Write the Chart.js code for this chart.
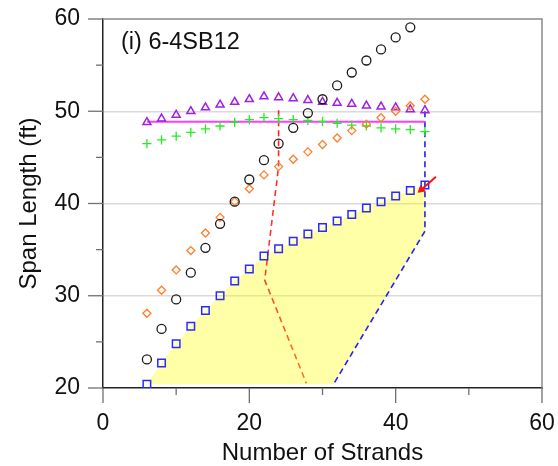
<!DOCTYPE html>
<html>
<head>
<meta charset="utf-8">
<script src="https://cdn.jsdelivr.net/npm/chart.js@4/dist/chart.umd.min.js"></script>
<style>
  body { margin: 0; background: #fff; }
  canvas { display: block; }
</style>
</head>
<body>
<canvas id="span_chart" width="558" height="466"></canvas>
<script>
// number of strands (x) shared by all marker series
const strands = [6, 8, 10, 12, 14, 16, 18, 20, 22, 24, 26, 28, 30, 32, 34, 36, 38, 40, 42, 44];

// span length (ft) per series
const circleSpan = [23.1, 26.4, 29.6, 32.5, 35.2, 37.8, 40.2, 42.6, 44.7, 46.5, 48.2, 49.8, 51.3, 52.8, 54.2, 55.5, 56.7, 58.0, 59.1];
const diamondSpan = [28.1, 30.6, 32.8, 34.9, 36.8, 38.5, 40.2, 41.6, 43.1, 44.0, 44.8, 45.6, 46.4, 47.1, 47.9, 48.6, 49.3, 50.0, 50.6, 51.3];
const triangleSpan = [48.8, 49.2, 49.6, 50.0, 50.4, 50.7, 51.0, 51.3, 51.6, 51.5, 51.4, 51.2, 51.0, 50.9, 50.8, 50.6, 50.5, 50.4, 50.2, 50.1];
const plusSpan = [46.5, 46.9, 47.3, 47.7, 48.1, 48.4, 48.8, 49.1, 49.3, 49.2, 49.1, 49.0, 48.9, 48.7, 48.5, 48.4, 48.2, 48.1, 48.0, 47.8];
const squareSpan = [20.4, 22.7, 24.8, 26.7, 28.4, 30.0, 31.6, 32.9, 34.3, 35.1, 35.9, 36.7, 37.4, 38.1, 38.8, 39.5, 40.2, 40.8, 41.4, 42.0];

// horizontal limit line
const limitX = [6, 44];
const limitY = [48.85, 48.85];

// dashed boundary lines
const redPathX = [24, 24, 22.1, 27.8];
const redPathY = [50.1, 44, 31.7, 20.5];
const bluePathX = [44, 44, 31.5];
const bluePathY = [50.0, 37.0, 20.4];

// red arrow pointing at the last square
const arrowX = [45.5, 43.5];
const arrowY = [42.9, 41.5];

// axis ticks
const xTicks = [0, 10, 20, 30, 40, 50, 60];
const yTicks = [20, 25, 30, 35, 40, 45, 50, 55, 60];
const xLabels = [0, 20, 40, 60];
const yLabels = [20, 30, 40, 50, 60];

const panelLabel = "(i) 6-4SB12";

function toPoints(xs, ys) {
    return ys.map((y, i) => ({ x: xs[i], y: y }));
}

// yellow region: along the squares, then down the blue dashed boundary
function fillPolygon() {
    const pts = toPoints(strands, squareSpan);
    pts.push({ x: bluePathX[1], y: bluePathY[1] });
    pts.push({ x: bluePathX[2], y: bluePathY[2] });
    pts.push({ x: strands[0], y: bluePathY[2] });
    return pts;
}

const FONT = "'Liberation Sans', Arial, sans-serif";

const frameTicks = {
    id: 'frameTicks',
    afterDraw(chart) {
        const ctx = chart.ctx;
        const a = chart.chartArea;
        const xs = chart.scales.x;
        const ys = chart.scales.y;
        ctx.save();
        // grey top and right frame
        ctx.strokeStyle = '#8a8a8a';
        ctx.lineWidth = 1.5;
        ctx.beginPath();
        ctx.moveTo(a.left, a.top);
        ctx.lineTo(a.right, a.top);
        ctx.lineTo(a.right, a.bottom);
        ctx.stroke();
        // outward tick marks
        ctx.strokeStyle = '#707070';
        ctx.lineWidth = 1.3;
        xTicks.forEach(v => {
            const px = xs.getPixelForValue(v);
            const len = xLabels.includes(v) ? 15 : 7;
            ctx.beginPath();
            ctx.moveTo(px, a.bottom);
            ctx.lineTo(px, a.bottom + len);
            ctx.stroke();
        });
        yTicks.forEach(v => {
            const py = ys.getPixelForValue(v);
            const len = yLabels.includes(v) ? 15 : 7;
            ctx.beginPath();
            ctx.moveTo(a.left, py);
            ctx.lineTo(a.left - len, py);
            ctx.stroke();
        });
        // panel label
        ctx.fillStyle = '#111';
        ctx.font = "23.5px " + FONT;
        ctx.textBaseline = 'alphabetic';
        ctx.textAlign = 'left';
        ctx.fillText(panelLabel, a.left + 18, 49);
        ctx.restore();
    }
};

function redGradient(context) {
    const chart = context.chart;
    if (!chart.chartArea) return '#ff2020';
    const y = chart.scales.y;
    const g = chart.ctx.createLinearGradient(0, y.getPixelForValue(redPathY[0]), 0, y.getPixelForValue(redPathY[3]));
    g.addColorStop(0, '#ff1e1e');
    g.addColorStop(0.55, '#ff3d2a');
    g.addColorStop(1, '#ff7a14');
    return g;
}

function createSpanChart() {
    const canvas = document.getElementById("span_chart");
    const data = {
        datasets: [
            {
                data: toPoints(arrowX, arrowY),
                showLine: true,
                borderColor: '#ff1010',
                backgroundColor: '#ff1010',
                borderWidth: 2,
                pointStyle: [false, 'triangle'],
                pointRadius: [0, 4],
                pointRotation: [0, 229],
                pointBorderWidth: 1
            },
            {
                data: toPoints(strands, squareSpan),
                pointStyle: 'rect',
                pointRadius: 5.3,
                pointBorderWidth: 1.5,
                borderColor: '#2a2aff',
                backgroundColor: 'transparent'
            },
            {
                data: toPoints(strands, circleSpan),
                pointStyle: 'circle',
                pointRadius: 4.5,
                pointBorderWidth: 1.3,
                borderColor: '#1a1a1a',
                backgroundColor: 'transparent'
            },
            {
                data: toPoints(strands, diamondSpan),
                pointStyle: 'rectRot',
                pointRadius: 4,
                pointBorderWidth: 1.3,
                borderColor: '#ff7f2a',
                backgroundColor: 'transparent'
            },
            {
                data: toPoints(strands, triangleSpan),
                pointStyle: 'triangle',
                pointRadius: 4.6,
                pointBorderWidth: 1.5,
                borderColor: '#a020e0',
                backgroundColor: 'transparent'
            },
            {
                data: toPoints(strands, plusSpan),
                pointStyle: 'cross',
                pointRadius: 4.6,
                pointBorderWidth: 1.3,
                borderColor: '#22ee22',
                backgroundColor: 'transparent'
            },
            {
                data: toPoints(limitX, limitY),
                showLine: true,
                borderColor: '#ff3cff',
                borderWidth: 2,
                pointRadius: 0
            },
            {
                data: toPoints(redPathX, redPathY),
                showLine: true,
                borderColor: redGradient,
                borderWidth: 1.6,
                borderDash: [6, 4],
                pointRadius: 0
            },
            {
                data: toPoints(bluePathX, bluePathY),
                showLine: true,
                borderColor: '#2323ee',
                borderWidth: 1.6,
                borderDash: [6, 4],
                pointRadius: 0
            },
            {
                data: fillPolygon(),
                showLine: true,
                borderWidth: 0,
                borderColor: 'transparent',
                backgroundColor: 'rgba(255, 255, 0, 0.34)',
                fill: 'shape',
                pointRadius: 0
            }
        ]
    };

    const config = {
        type: 'scatter',
        data: data,
        options: {
            responsive: false,
            animation: false,
            layout: { padding: { top: 19, right: 16, left: 0, bottom: 0 } },
            plugins: {
                legend: { display: false },
                tooltip: { enabled: false }
            },
            scales: {
                x: {
                    type: 'linear',
                    min: 0,
                    max: 60,
                    afterFit: s => {
                        s.height = 78;
                        s.paddingLeft = 0; s.paddingRight = 0;
                    },
                    afterBuildTicks: s => { s.ticks = xTicks.map(v => ({ value: v })); },
                    ticks: {
                        autoSkip: false,
                        maxRotation: 0,
                        padding: 22,
                        color: '#111',
                        font: { size: 23, family: FONT },
                        callback: v => xLabels.includes(v) ? String(v) : ''
                    },
                    grid: { drawOnChartArea: false, drawTicks: false },
                    border: { color: '#222', width: 1.5 },
                    title: {
                        display: true,
                        text: 'Number of Strands',
                        color: '#111',
                        font: { size: 24, family: FONT, lineHeight: 1.0 },
                        padding: { top: 0, bottom: 0.5 }
                    }
                },
                y: {
                    type: 'linear',
                    min: 20,
                    max: 60,
                    afterFit: s => {
                        s.width = 103;
                        s.paddingTop = 0; s.paddingBottom = 0;
                    },
                    afterBuildTicks: s => { s.ticks = yTicks.map(v => ({ value: v })); },
                    ticks: {
                        autoSkip: false,
                        padding: 23,
                        color: '#111',
                        font: { size: 23, family: FONT },
                        callback: v => yLabels.includes(v) ? String(v) : ''
                    },
                    grid: {
                        drawTicks: false,
                        lineWidth: 1.5,
                        color: ctx => {
                            const v = ctx.tick ? ctx.tick.value : null;
                            return (v === 30 || v === 40 || v === 50) ? '#dadada' : 'transparent';
                        }
                    },
                    border: { color: '#222', width: 1.5 },
                    title: {
                        display: true,
                        text: 'Span Length (ft)',
                        color: '#111',
                        font: { size: 24, family: FONT },
                        padding: { top: 14.6, bottom: 0 }
                    }
                }
            }
        },
        plugins: [frameTicks]
    };

    return new Chart(canvas, config);
}

createSpanChart();
</script>
</body>
</html>
